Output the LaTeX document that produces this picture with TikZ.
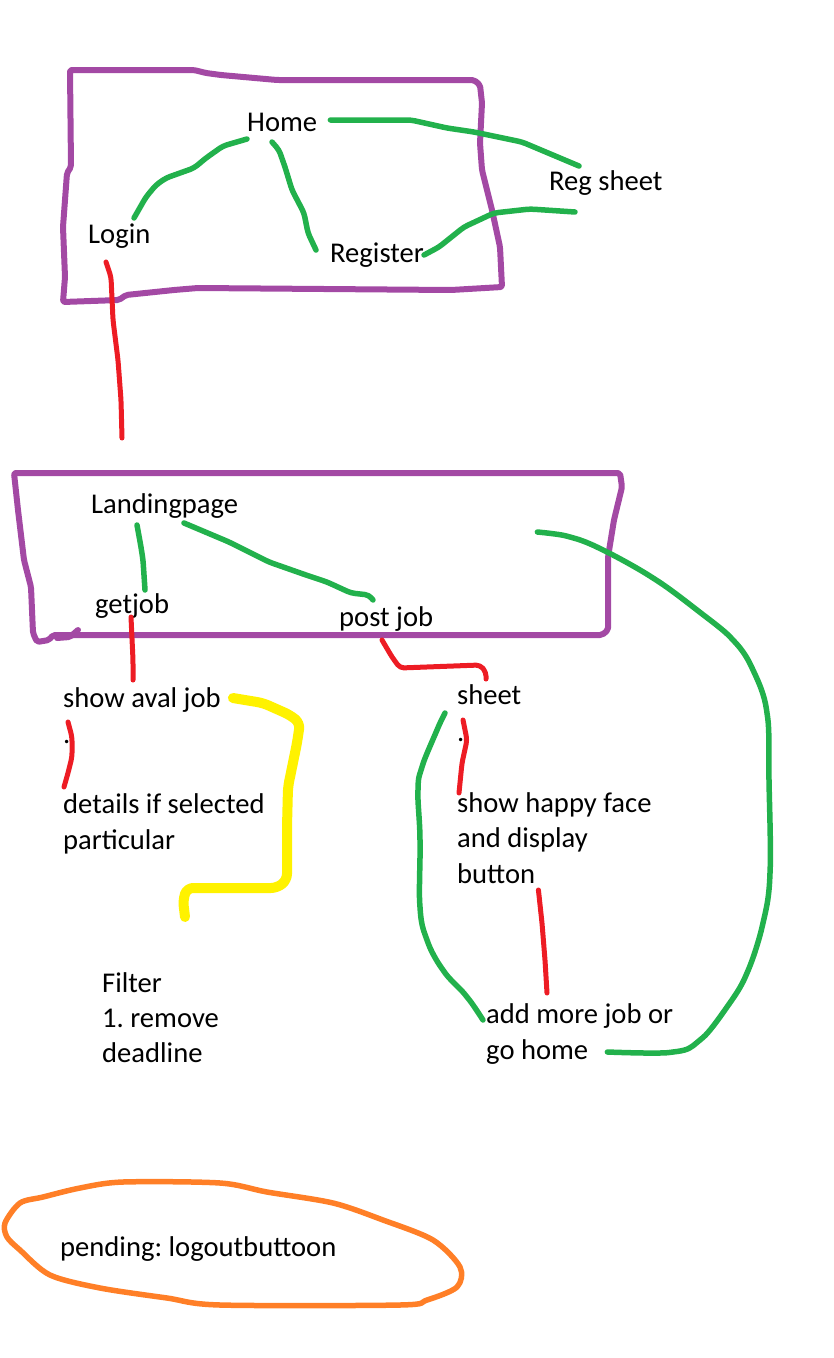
\documentclass[tikz,border=0pt]{standalone}
\usepackage{fontspec}
\setmainfont{Carlito}
\frenchspacing
\definecolor{paintpurple}{HTML}{A349A4}
\definecolor{paintgreen}{HTML}{22B14C}
\definecolor{paintred}{HTML}{ED1C24}
\definecolor{paintyellow}{HTML}{FFF200}
\definecolor{paintorange}{HTML}{FF7F27}
\begin{document}
\begin{tikzpicture}[x=1pt, y=-1pt,
    lbl/.style={inner sep=0pt, anchor=base west, font=\fontsize{28.6}{35.5}\selectfont},
    pen/.style={line join=round, line cap=round},
    boxline/.style={pen, paintpurple, line width=6pt, rounded corners=2pt},
    greenline/.style={pen, paintgreen, line width=5.5pt, rounded corners=4pt},
    redline/.style={pen, paintred, line width=5pt, rounded corners=4pt},
    yellowline/.style={pen, paintyellow, line width=10pt, rounded corners=6pt},
    orangeline/.style={pen, paintorange, line width=5.5pt}]
  \useasboundingbox (0,0) rectangle (834,1358);

  % frames
  \draw[boxline] (70,70) -- (194,70) -- (206,73) -- (221,75) -- (277,80) -- (474,80)
    -- (480,85) -- (482,103) -- (480,143) -- (482,170) -- (492,210) -- (500,247)
    -- (502,287) -- (451,290) -- (198,288) -- (174,290) -- (126,295) -- (119,300)
    -- (63,302) -- (65,277) -- (63,227) -- (67,173) -- (71,167) -- cycle;
  \draw[boxline] (14,473) -- (620,473) -- (622,487) -- (614,520) -- (608,557)
    -- (608,630) -- (602,635) -- (53,635) -- (49,640) -- (37,642) -- (33,633)
    -- (31,587) -- (24,560) -- (18,510) -- cycle;
  \draw[boxline] (57,638) -- (70,637) -- (78,630);

  % texts
  \node[lbl] (Home) at (247,131) {Home};
  \node[lbl] (Login) at (88,243) {Login};
  \node[lbl] (Register) at (330,262) {Register};
  \node[lbl] (RegSheet) at (549,190) {Reg sheet};
  \node[lbl] (Landing) at (91,513) {Landingpage};
  \node[lbl] (GetJob) at (95,613) {getjob};
  \node[lbl] (PostJob) at (339,626) {post job};
  \node[lbl] (ShowAval) at (63,707) {show aval job};
  \node[lbl] (AvalDot) at (63,743) {.};
  \node[lbl] (Details) at (63,813) {details if selected};
  \node[lbl] (Details2) at (63,849) {particular};
  \node[lbl] (Filter) at (102,992) {Filter};
  \node[lbl] (Filter2) at (102,1027) {1. remove};
  \node[lbl] (Filter3) at (102,1062) {deadline};
  \node[lbl] (Sheet) at (457,704) {sheet};
  \node[lbl] (SheetDot) at (457,741) {.};
  \node[lbl] (Happy) at (457,812) {show happy face};
  \node[lbl] (Happy2) at (457,847) {and display};
  \node[lbl] (Button) at (457,883) {button};
  \node[lbl] (AddMore) at (486,1023) {add more job or};
  \node[lbl] (GoHome) at (486,1059) {go home};
  \node[lbl] (Pending) at (60,1256) {pending: logoutbuttoon};
  \coordinate (LoginDown) at (122,438);

  % top page links
  \draw[greenline] ([shift={(13,-11)}]Home.base east) -- (411,120) -- (447,128)
    -- (474,132) -- (522,142) -- ([shift={(30,-24)}]RegSheet.base west);
  \draw[greenline] ([shift={(0,8)}]Home.base west) -- (223,146) -- (206,158)
    -- (194,168) -- (166,178) -- (156,185) -- (146,197)
    -- ([shift={(46,-25)}]Login.base west);
  \draw[greenline] ([shift={(25,11)}]Home.base west) -- (279,150) -- (285,167)
    -- (292,190) -- (304,213) -- (308,233) -- ([shift={(-14,-12)}]Register.base west);
  \draw[greenline] ([shift={(0,-7)}]Register.base east) -- (439,247) -- (464,227)
    -- (494,213) -- (530,209) -- ([shift={(26,22)}]RegSheet.base west);
  \draw[redline] ([shift={(18,19)}]Login.base west) -- (111,277) -- (113,320)
    -- (118,360) -- (121,400) -- (LoginDown);

  % landing page links
  \draw[greenline] ([shift={(46,12)}]Landing.base west) -- (141,547) -- (143,560)
    -- ([shift={(50,-23)}]GetJob.base west);
  \draw[greenline] ([shift={(93,10)}]Landing.base west) -- (229,542) -- (245,550)
    -- (269,562) -- (306,575) -- (327,582) -- (351,593) -- (369,595)
    -- ([shift={(34,-26)}]PostJob.base west);
  \draw[redline] ([shift={(36,4)}]GetJob.base west) -- (133,660)
    -- ([shift={(70,-27)}]ShowAval.base west);
  \draw[redline] ([shift={(43,14)}]PostJob.base west) -- (392,657) -- (400,668)
    -- (480,665) -- (486,672) -- ([shift={(29,-25)}]Sheet.base west);

  % get job side
  \draw[yellowline] ([shift={(12,-9)}]ShowAval.base east) -- (263,703) -- (290,715)
    -- (300,723) -- (297,743) -- (288,787) -- (287,827) -- (287,880) -- (277,888)
    -- (187,888) -- (183,900) -- ([shift={(83,-75)}]Filter.base west);
  \draw[redline] ([shift={(5,15)}]ShowAval.base west) -- (72,737) -- (72,757)
    -- (68,773) -- ([shift={(1,-26)}]Details.base west);

  % post job side
  \draw[greenline] plot[smooth, tension=0.6] coordinates {([shift={(-12,9)}]Sheet.base west)
    (437,730) (422,767) (418,790) (420,840) (420,907) (427,940) (443,970) (467,997)
    ([shift={(-3,-3)}]AddMore.base west)};
  \draw[redline] ([shift={(6,16)}]Sheet.base west) -- (467,740) -- (462,763)
    -- ([shift={(2,-19)}]Happy.base west);
  \draw[redline] ([shift={(3,7)}]Button.base east) -- (542,923) -- (545,960)
    -- ([shift={(61,-30)}]AddMore.base west);
  \draw[greenline] plot[smooth, tension=0.6] coordinates {([shift={(19,-7)}]GoHome.base east)
    (673,1052) (700,1040) (727,1007) (747,973) (763,923) (770,873) (769,780)
    (767,713) (753,670) (733,640) (697,610) (653,578) (603,550) (570,537)
    ([shift={(299,19)}]Landing.base east)};

  % pending note
  \draw[orangeline] plot[smooth cycle, tension=0.5] coordinates {(5,1223) (20,1203)
    (43,1197) (80,1188) (123,1182) (220,1183) (267,1192) (333,1203) (383,1220)
    (433,1240) (460,1267) (457,1287) (427,1300) (400,1305) (220,1305) (167,1298)
    (100,1288) (50,1275) (20,1250) (7,1237)};
\end{tikzpicture}
\end{document}
